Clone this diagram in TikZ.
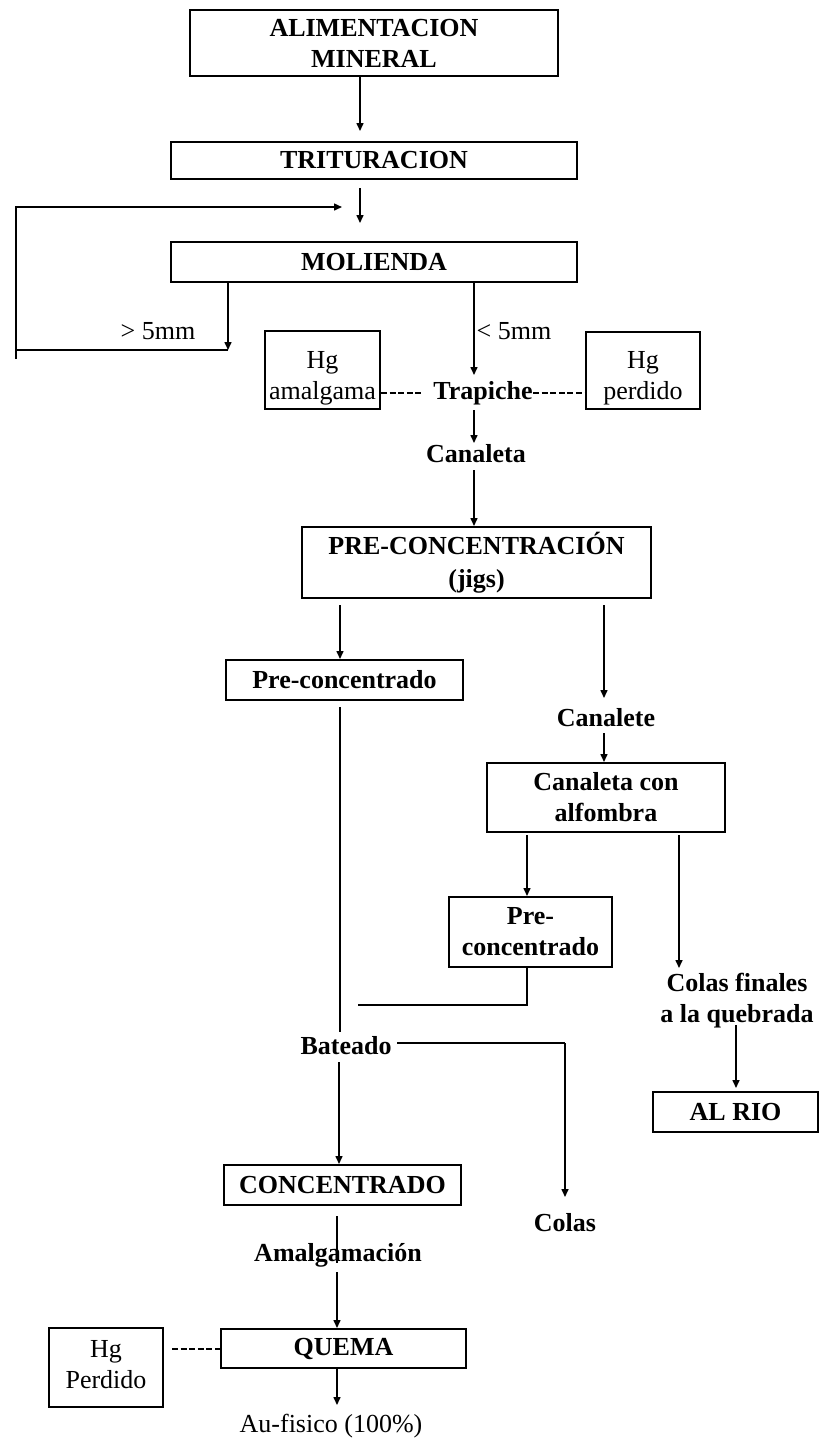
\documentclass[tikz,border=0pt]{standalone}
\usepackage{fontspec}
\setmainfont{Liberation Serif}
\usetikzlibrary{arrows.meta}
\begin{document}
\begin{tikzpicture}[x=0.5pt,y=-0.5pt,
  box/.style={draw, line width=1pt, inner sep=0pt, align=center, font=\fontsize{13}{15.5}\selectfont\bfseries},
  hgbox/.style={draw, line width=1pt, inner sep=0pt},
  lbl/.style={inner sep=0pt, align=center, font=\fontsize{13}{15.5}\selectfont\bfseries},
  plain/.style={inner sep=0pt, align=center, font=\fontsize{13}{15.5}\selectfont},
  ln/.style={line width=0.75pt},
  arr/.style={ln, -{Triangle[length=4pt,width=3.5pt]}},
  dsh/.style={line width=1pt, dash pattern=on 3pt off 1.3pt},
]
\useasboundingbox (0,0) rectangle (819,1442);

% nodes
\node[box, minimum width=184pt, minimum height=33pt] (alim) at (374,43) {ALIMENTACION\\MINERAL};
\node[box, minimum width=203pt, minimum height=18.5pt] (trit) at (374,160.5) {TRITURACION};
\node[box, minimum width=203pt, minimum height=20pt] (mol) at (374,262) {MOLIENDA};
\node[plain] (gt) at (158,331) {> 5mm};
\node[plain] (lt) at (514,331) {< 5mm};
\node[hgbox, minimum width=57.5pt, minimum height=39pt] (hgam) at (322.5,370) {};
\node[plain] (hgamt) at (322.5,378) {Hg\\amalgama};
\node[hgbox, minimum width=57pt, minimum height=38.5pt] (hgper) at (643,370.5) {};
\node[plain] (hgpert) at (643,378) {Hg\\perdido};
\node[lbl] (trap) at (483,393) {Trapiche};
\node[lbl] (can) at (476,454) {Canaleta};
\node[box, minimum width=174.5pt, minimum height=35.5pt] (precon) at (476.5,562.5) {PRE-CONCENTRACIÓN\\[1pt](jigs)};
\node[box, minimum width=118.5pt, minimum height=20pt] (pre1) at (344.5,680) {Pre-concentrado};
\node[lbl] (canete) at (606,718) {Canalete};
\node[box, minimum width=119pt, minimum height=34.5pt] (alf) at (606,797.5) {Canaleta con\\alfombra};
\node[box, minimum width=81.5pt, minimum height=35pt] (pre2) at (530.5,932) {Pre-\\concentrado};
\node[lbl] (colf) at (737,1001) {Colas finales\\a la quebrada};
\node[box, minimum width=82.5pt, minimum height=20pt] (rio) at (735.5,1112) {AL RIO};
\node[lbl] (bat) at (346,1046) {Bateado};
\node[lbl] (colas) at (565,1223) {Colas};
\node[box, minimum width=118.5pt, minimum height=20pt] (conc) at (342.5,1185) {CONCENTRADO};
\node[lbl] (amal) at (338,1255) {Amalgamación};
\node[box, minimum width=122.5pt, minimum height=19.5pt] (quema) at (343.5,1348.5) {QUEMA};
\node[hgbox, minimum width=57pt, minimum height=39.5pt] (hgq) at (106,1367.5) {};
\node[plain] (hgqt) at (106,1365) {Hg\\Perdido};
\node[plain] (au) at (331,1426) {Au-fisico (100\%)};

% coordinates for free ends
\coordinate (a1) at (360,131);
\coordinate (a2s) at (360,188);
\coordinate (a2) at (360,223);
\coordinate (fb1) at (16,359);
\coordinate (fb2) at (16,207);
\coordinate (fb3) at (342,207);
\coordinate (fb4) at (228,350);
\coordinate (a4) at (474,375);
\coordinate (a6s) at (474,410);
\coordinate (a6) at (474,443);
\coordinate (a7s) at (474,470);
\coordinate (xl) at (340,605);
\coordinate (xr) at (604,605);
\coordinate (a9) at (604,698);
\coordinate (a10s) at (604,733);
\coordinate (l1e) at (340,1032);
\coordinate (xa) at (527,835);
\coordinate (xb) at (679,835);
\coordinate (a12) at (679,968);
\coordinate (p2c) at (527,1005);
\coordinate (p2e) at (358,1005);
\coordinate (q1s) at (736,1025);
\coordinate (q1) at (736,1088);
\coordinate (b1) at (397,1043);
\coordinate (b2) at (565,1043);
\coordinate (b3) at (565,1197);
\coordinate (b4s) at (339,1062);
\coordinate (c1) at (337,1263);
\coordinate (c2s) at (337,1272);
\coordinate (h1) at (172,1349);
\coordinate (au1) at (337,1405);

% connectors
\draw[arr] (alim.south -| a1) -- (a1);
\draw[arr] (a2s) -- (a2);
\draw[arr] (fb1) -- (fb2) -- (fb3);
\draw[arr] (mol.south -| fb4) -- (fb4);
\draw[ln] (fb4) -- (fb4 -| fb1);
\draw[arr] (mol.south -| a4) -- (a4);
\draw[dsh] (hgam.east |- trap) -- ([xshift=-5pt]trap.west);
\draw[dsh] (trap.east) -- (hgper.west |- trap);
\draw[arr] (a6s) -- (a6);
\draw[arr] (a7s) -- (precon.north -| a7s);
\draw[arr] (xl) -- (pre1.north -| xl);
\draw[arr] (xr) -- (a9);
\draw[arr] (a10s) -- (alf.north -| a10s);
\draw[arr] (xa) -- (pre2.north -| xa);
\draw[arr] (xb) -- (a12);
\draw[ln] ([yshift=-3pt]pre1.south -| xl) -- (l1e);
\draw[ln] (pre2.south -| p2c) -- (p2c) -- (p2e);
\draw[arr] (q1s) -- (q1);
\draw[ln] (b1) -- (b2);
\draw[arr] (b2) -- (b3);
\draw[arr] (b4s) -- (conc.north -| b4s);
\draw[ln] ([yshift=-5pt]conc.south -| c1) -- (c1);
\draw[arr] (c2s) -- (quema.north -| c2s);
\draw[dsh] (h1) -- (quema.west |- h1);
\draw[arr] (quema.south -| au1) -- (au1);
\end{tikzpicture}
\end{document}
